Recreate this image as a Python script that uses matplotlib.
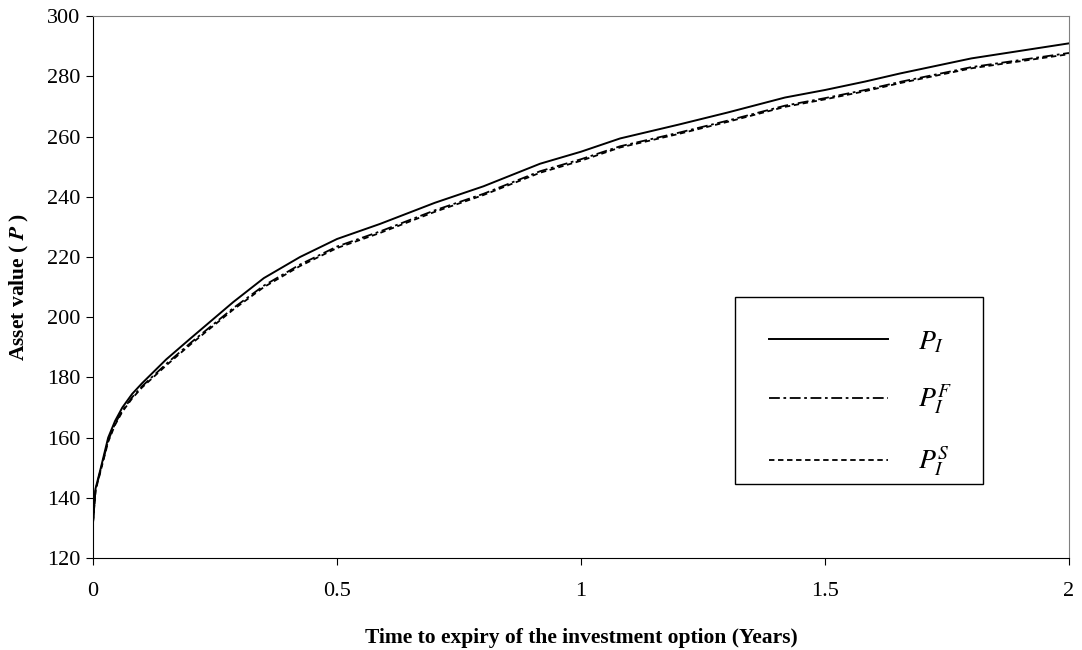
import matplotlib
matplotlib.use('Agg')
import matplotlib.pyplot as plt
from matplotlib.patches import Rectangle

plt.rcParams['font.family'] = ['Liberation Serif', 'DejaVu Serif']
plt.rcParams['mathtext.fontset'] = 'stix'

# time to expiry (years)
t = [0.0, 0.005, 0.016, 0.031, 0.045, 0.06, 0.08, 0.1, 0.15, 0.2, 0.287, 0.35,
     0.424, 0.5, 0.588, 0.7, 0.8, 0.916, 1.0, 1.08, 1.2, 1.3, 1.418, 1.5,
     1.582, 1.654, 1.8, 2.0]

# critical asset values
p_i = [132, 143, 150, 160, 165.5, 170, 174.5, 178, 186, 193, 205, 213,
       220, 226, 231, 238, 243.5, 251, 255, 259.4, 264, 268, 273, 275.5,
       278.3, 281, 286, 291]
p_i_f = [132, 142.5, 149.5, 159, 164.6, 169, 173.4, 177, 184.5, 191.5, 203, 210.5,
         217.5, 223.5, 228.5, 235.5, 241, 248.5, 252.5, 256.8, 261.3, 265.3, 270.3, 272.8,
         275.5, 278.2, 283.1, 287.8]
p_i_s = [132, 142.3, 149.2, 158.6, 164.2, 168.6, 173, 176.6, 184, 191, 202.5, 210,
         217, 223, 228, 235, 240.6, 248, 252, 256.4, 260.9, 264.9, 269.9, 272.4,
         275.1, 277.8, 282.7, 287.4]

fig = plt.figure(figsize=(10.82, 6.5), dpi=100)
ax = fig.add_axes([0.086, 0.1415, 0.902, 0.8335])

ax.plot(t, p_i, color='black', lw=1.4, label=r'$P_I$')
ax.plot(t, p_i_f, color='black', lw=1.3, linestyle=(0, (6, 2, 1.5, 2)), label=r'$P_I^F$')
ax.plot(t, p_i_s, color='black', lw=1.3, linestyle=(0, (3, 2)), label=r'$P_I^S$')

ax.set_xlim(0, 2)
ax.set_ylim(120, 300)
ax.set_xticks([0, 0.5, 1, 1.5, 2])
ax.set_xticklabels(['0', '0.5', '1', '1.5', '2'])
ax.set_yticks(range(120, 301, 20))
ax.tick_params(direction='out', length=5, labelsize=16, colors='black')
ax.tick_params(axis='x', pad=12)
ax.tick_params(axis='y', pad=4)

for side in ['top', 'right']:
    ax.spines[side].set_color('#808080')
for side in ['left', 'bottom']:
    ax.spines[side].set_color('black')

ax.set_xlabel('Time to expiry of the investment option (Years)', fontsize=15.5,
              fontweight='bold', labelpad=20)
ax.set_ylabel(r'Asset value ( $\boldsymbol{P}$ )', fontsize=15.5, fontweight='bold', labelpad=12)

# legend frame drawn separately so its size is fixed
ax.add_patch(Rectangle((0.658, 0.1365), 0.254, 0.345, transform=ax.transAxes,
                       fill=False, edgecolor='black', lw=1.0, zorder=5))
leg = ax.legend(loc='upper left', bbox_to_anchor=(0.6926, 0.422), fontsize=20,
                frameon=False, handlelength=4.3, handletextpad=1.05,
                labelspacing=1.0, borderpad=0, borderaxespad=0)

fig.savefig('out.png', dpi=100)
